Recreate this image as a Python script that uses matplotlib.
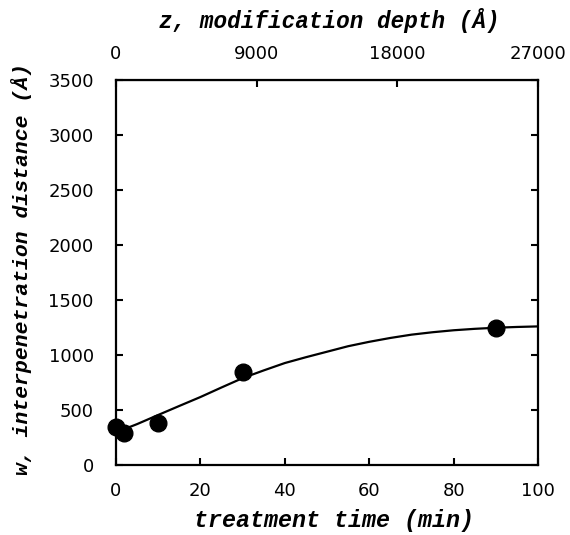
import matplotlib.pyplot as plt

# measured interpenetration distance vs. treatment time
time_min = [0, 2, 10, 30, 90]
distance = [350, 295, 380, 845, 1245]

# fitted curve through the data
fit_time = [2.6, 5, 10, 15, 20, 25, 30, 35, 40, 45, 50, 55, 60, 65, 70, 75, 80, 85, 90, 95, 100]
fit_dist = [336, 372, 455, 537, 618, 705, 790, 860, 927, 980, 1030, 1080, 1120, 1155,
            1185, 1207, 1225, 1238, 1248, 1255, 1260]

x_ticks = [0, 20, 40, 60, 80, 100]
y_ticks = [0, 500, 1000, 1500, 2000, 2500, 3000, 3500]
depth_ticks = [0, 9000, 18000, 27000]
depth_per_min = 270

label_font = dict(family="Liberation Mono", style="italic", weight="bold")

fig = plt.figure(figsize=(5.7, 5.35), dpi=100)
ax = fig.add_axes([0.2035, 0.1308, 0.7405, 0.7197])

ax.plot(fit_time, fit_dist, color="black", lw=1.6, zorder=2)
ax.plot(time_min, distance, "o", color="black", ms=12, clip_on=False, zorder=3)

ax.set_xlim(0, 100)
ax.set_ylim(0, 3500)
ax.set_xticks(x_ticks)
ax.set_yticks(y_ticks)
ax.tick_params(direction="in", length=5, width=1.5, labelsize=13, pad=16,
               right=True)
ax.tick_params(axis="x", pad=12)
for s in ax.spines.values():
    s.set_linewidth(1.6)

top = ax.secondary_xaxis("top", functions=(lambda t: t * depth_per_min,
                                           lambda z: z / depth_per_min))
top.set_xticks(depth_ticks)
top.tick_params(direction="in", length=5, width=1.5, labelsize=13, pad=12)

# axis titles placed in axes coordinates
ax.text(0.517, -0.145, "treatment time (min)", transform=ax.transAxes,
        ha="center", va="center", size=16.8, **label_font)
ax.text(0.505, 1.155, "z, modification depth (Å)", transform=ax.transAxes,
        ha="center", va="center", size=16.3, **label_font)
ax.text(-0.223, 0.51, "w, interpenetration distance (Å)", transform=ax.transAxes,
        ha="center", va="center", rotation=90, size=15.4, **label_font)

fig.savefig("out.png", dpi=100)
